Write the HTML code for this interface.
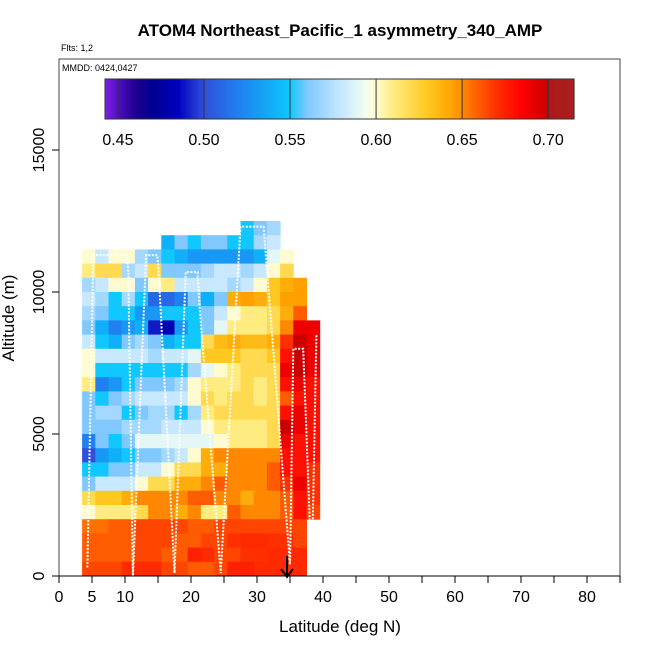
<!DOCTYPE html>
<html><head><meta charset="utf-8"><style>
body{margin:0;background:#fff;}
svg text{font-family:"Liberation Sans",sans-serif;}
</style></head><body>
<svg id="c" width="650" height="650" viewBox="0 0 650 650" xmlns="http://www.w3.org/2000/svg">
<text x="340" y="36" text-anchor="middle" font-size="17" font-weight="bold">ATOM4 Northeast_Pacific_1 asymmetry_340_AMP</text>
<text x="61" y="51" font-size="9">Flts: 1,2</text>
<g id="heat"></g>
<g id="track"></g>
<rect x="59" y="59" width="561" height="517" fill="none" stroke="#444" stroke-width="1"/>
<text x="62" y="71" font-size="9">MMDD: 0424,0427</text>
<g id="cbar"></g>
<g id="axes"></g>
<text x="340" y="632" text-anchor="middle" font-size="17">Latitude (deg N)</text>
<text transform="translate(14,318) rotate(-90)" text-anchor="middle" font-size="17">Altitude (m)</text>
<path d="M287,556 L287,577 M281,569 L287,577 L293,569" stroke="#000" stroke-width="2" fill="none"/>
</svg>
<script>
const xTicks=[0,5,10,20,30,40,50,60,70,80];
const xMinor=[0,5,10,15,20,25,30,35,40,45,50,55,60,65,70,75,80,85];
const yTicks=[0,5000,10000,15000];
const cbTicks=[0.45,0.50,0.55,0.60,0.65,0.70];
const colLatStart=3.5, colLatWidth=2, rowAltHeight=500;
const rowsTopDown=[
[null,null,null,null,null,null,null,null,null,null,null,null,0.55,0.56,0.57,null,null,null],
[null,null,null,null,null,null,0.54,0.56,0.55,0.56,0.56,0.55,0.55,0.57,0.58,null,null,null],
[0.6,0.58,0.6,0.6,0.57,0.56,0.55,0.54,0.53,0.53,0.53,0.53,0.53,0.54,0.59,0.6,null,null],
[0.61,0.62,0.62,0.57,0.58,0.62,0.56,0.56,0.56,0.57,0.58,0.58,0.57,0.58,0.6,0.62,null,null],
[0.57,0.58,0.6,0.6,0.56,0.6,0.61,0.58,0.58,0.58,0.58,0.57,0.58,0.6,0.63,0.64,0.645,null],
[0.58,0.57,0.55,0.57,0.55,0.51,0.51,0.52,0.56,0.54,0.56,0.64,0.645,0.64,0.63,0.645,0.645,null],
[0.57,0.56,0.55,0.55,0.53,0.53,0.55,0.55,0.55,0.56,0.58,0.6,0.61,0.61,0.62,0.64,0.66,null],
[0.56,0.54,0.52,0.53,0.54,0.49,0.48,0.53,0.55,0.56,0.59,0.61,0.61,0.61,0.62,0.65,0.69,0.69],
[0.58,0.55,0.54,0.56,0.57,0.56,0.54,0.55,0.55,0.62,0.635,0.64,0.635,0.635,0.64,0.67,0.70,0.69],
[0.6,0.58,0.58,0.58,0.58,0.57,0.58,0.58,0.59,0.63,0.63,0.63,0.62,0.62,0.63,0.68,0.70,0.69],
[0.6,0.55,0.55,0.55,0.55,0.55,0.55,0.55,0.57,0.59,0.6,0.61,0.62,0.62,0.62,0.69,0.70,0.69],
[0.61,0.52,0.53,0.55,0.56,0.56,0.56,0.57,0.6,0.61,0.61,0.61,0.62,0.61,0.62,0.68,0.69,0.68],
[0.56,0.55,0.56,0.57,0.58,0.58,0.58,0.58,0.6,0.62,0.61,0.62,0.62,0.61,0.62,0.66,0.68,0.68],
[0.56,0.57,0.57,0.55,0.56,0.57,0.57,0.55,0.57,0.61,0.62,0.62,0.62,0.62,0.62,0.68,0.69,0.68],
[0.56,0.56,0.56,0.57,0.57,0.57,0.58,0.58,0.58,0.6,0.61,0.61,0.61,0.61,0.62,0.70,0.69,0.68],
[0.52,0.56,0.55,0.56,0.59,0.59,0.59,0.59,0.59,0.59,0.6,0.61,0.61,0.61,0.62,0.69,0.68,0.68],
[0.5,0.53,0.54,0.55,0.56,0.56,0.57,0.58,0.6,0.64,0.65,0.65,0.65,0.65,0.65,0.68,0.68,0.68],
[0.55,0.55,0.56,0.56,0.58,0.58,0.6,0.62,0.62,0.64,0.64,0.65,0.65,0.65,0.66,0.68,0.68,0.67],
[0.56,0.58,0.58,0.58,0.6,0.62,0.62,0.64,0.64,0.65,0.66,0.65,0.65,0.65,0.66,0.67,0.69,0.67],
[0.62,0.63,0.63,0.64,0.65,0.65,0.65,0.65,0.66,0.66,0.65,0.65,0.64,0.65,0.65,0.66,0.68,0.67],
[0.6,0.61,0.61,0.61,0.62,0.65,0.65,0.64,0.65,0.61,0.61,0.66,0.65,0.65,0.65,0.66,0.68,0.665],
[0.655,0.655,0.66,0.66,0.665,0.665,0.665,0.665,0.66,0.66,0.665,0.665,0.665,0.665,0.665,0.665,0.665,null],
[0.66,0.66,0.66,0.66,0.665,0.665,0.665,0.66,0.66,0.665,0.665,0.67,0.672,0.672,0.67,0.67,0.665,null],
[0.66,0.66,0.66,0.66,0.665,0.665,0.66,0.66,0.675,0.672,0.665,0.665,0.67,0.67,0.672,0.672,0.672,null],
[0.665,0.665,0.665,0.672,0.672,0.672,0.665,0.665,0.66,0.66,0.665,0.675,0.675,0.672,0.672,0.672,0.672,null]
];
const trackLat=[4.3,5.2,10.3,10.5,11.2,13.2,14.9,15.1,17.5,19.2,21,21.3,24.5,27.5,31,35,35.5,37,38.3,39];
const trackAlt=[300,11300,11300,10700,0,11300,11300,10700,100,10700,10700,9500,100,12300,12300,400,8000,8000,100,8500];
const stops=[[0.4425,'#8020e8'],[0.45,'#5010c0'],[0.46,'#200090'],[0.47,'#000090'],[0.485,'#0000c0'],[0.5,'#3050d8'],[0.52,'#2080f0'],[0.54,'#10b0f8'],[0.55,'#10c8ff'],[0.56,'#80c8ff'],[0.58,'#c8e8ff'],[0.595,'#f4fff0'],[0.6,'#fffbd0'],[0.61,'#ffec80'],[0.63,'#ffc820'],[0.645,'#ffa000'],[0.655,'#ff7000'],[0.67,'#ff3000'],[0.685,'#ff0000'],[0.70,'#c80000'],[0.7001,'#b01818'],[0.715,'#a82020']];
const NS='http://www.w3.org/2000/svg';
const X=l=>59+l*6.6, Y=a=>576-a*0.0284;
function hx(h){return [1,3,5].map(i=>parseInt(h.substr(i,2),16));}
function col(v){
  if(v<=stops[0][0])return stops[0][1];
  for(let i=1;i<stops.length;i++){if(v<=stops[i][0]){const a=stops[i-1],b=stops[i];const t=(v-a[0])/(b[0]-a[0]);const A=hx(a[1]),B=hx(b[1]);return 'rgb('+A.map((c,k)=>Math.round(c+(B[k]-c)*t)).join(',')+')';}}
  return stops[stops.length-1][1];
}
function mk(tag,attrs,parent){const e=document.createElementNS(NS,tag);for(const k in attrs)e.setAttribute(k,attrs[k]);parent.appendChild(e);return e;}
const heat=document.getElementById('heat');
const nR=rowsTopDown.length;
rowsTopDown.forEach((row,ri)=>{
  const a0=(nR-1-ri)*rowAltHeight;
  row.forEach((v,ci)=>{
    if(v===null)return;
    const l0=colLatStart+ci*colLatWidth;
    const r=mk('rect',{x:X(l0),y:Y(a0+rowAltHeight),width:X(l0+colLatWidth)-X(l0)+0.5,height:Y(a0)-Y(a0+rowAltHeight)+0.5,fill:col(v)},heat);
    
    
  });
});
const tr=document.getElementById('track');
const pl=mk('polyline',{points:trackLat.map((l,i)=>X(l)+','+Y(trackAlt[i])).join(' '),fill:'none',stroke:'#fff','stroke-width':2,'stroke-dasharray':'2,1.5'},tr);


const cb=document.getElementById('cbar');
const cx0=105,cx1=574,vmin=0.4425,vmax=0.715;
const CX=v=>cx0+(v-vmin)/(vmax-vmin)*(cx1-cx0);
for(let i=0;i<200;i++){const v0=vmin+(vmax-vmin)*i/200,v1=vmin+(vmax-vmin)*(i+1)/200;
  const r=mk('rect',{x:CX(v0),y:79,width:CX(v1)-CX(v0)+0.6,height:40,fill:col((v0+v1)/2)},cb);
  
  }
mk('rect',{x:cx0,y:79,width:cx1-cx0,height:40,fill:'none',stroke:'#333'},cb);
cbTicks.forEach(v=>{
  const ln=mk('line',{x1:CX(v),x2:CX(v),y1:79,y2:119,stroke:'#333','stroke-width':1},cb);
  
  
  const t=mk('text',{x:CX(v),y:145,'text-anchor':'middle','font-size':16},cb);t.textContent=v.toFixed(2);
  
  
});
const ax=document.getElementById('axes');
mk('line',{x1:59,x2:620,y1:576,y2:576,stroke:'#000'},ax);
xMinor.forEach(v=>{const l=mk('line',{x1:X(v),x2:X(v),y1:576,y2:583,stroke:'#000'},ax);
  
  });
xTicks.forEach(v=>{const t=mk('text',{x:X(v),y:602,'text-anchor':'middle','font-size':16},ax);t.textContent=v;
  
  });
yTicks.forEach(v=>{const l=mk('line',{x1:52,x2:59,y1:Y(v),y2:Y(v),stroke:'#000'},ax);
  
  
  const t=mk('text',{transform:'translate(44,'+Y(v)+') rotate(-90)','text-anchor':'middle','font-size':16},ax);t.textContent=v;
  
  });
</script>
</body></html>
